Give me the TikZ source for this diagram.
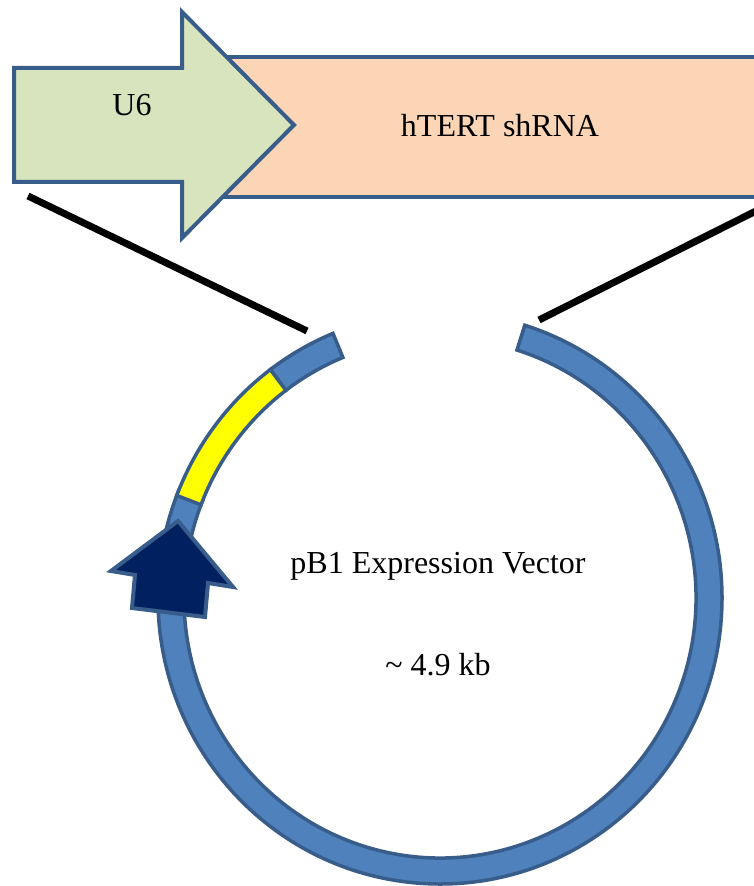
\documentclass[tikz,border=0pt]{standalone}
\usepackage{fontspec}
\setmainfont{Liberation Serif}
\usetikzlibrary{calc}
\definecolor{ringblue}{HTML}{4F81BD}
\definecolor{ringedge}{HTML}{385D8A}
\definecolor{u6green}{HTML}{D7E4BD}
\definecolor{shpink}{HTML}{FBD5B5}
\definecolor{navyarrow}{HTML}{002060}
\definecolor{markyellow}{HTML}{FFFF00}
\newcommand{\plasmidarc}[3]{%
  \path[#1] ($(C)+(#2:282 and 286)$)
    arc[start angle=#2, end angle=#3, x radius=282, y radius=286]
    -- ($(C)+(#3:256 and 260)$)
    arc[start angle=#3, end angle=#2, x radius=256, y radius=260] -- cycle;}
\begin{document}
\begin{tikzpicture}[x=1pt,y=1pt,
  ringseg/.style={fill=ringblue, draw=ringedge, line width=3.5pt},
  yellowseg/.style={fill=markyellow, draw=ringedge, line width=3.5pt},
  insertbox/.style={draw=ringedge, line width=4pt},
  link/.style={line width=7pt, black},
  lbl/.style={font=\fontsize{32}{38}\selectfont, inner sep=0pt, text=black}]
\useasboundingbox (0,0) rectangle (754,886);
\clip (0,0) rectangle (754,886);
\fill[white] (0,0) rectangle (754,886);
% insert: shRNA box and U6 promoter arrow
\node[insertbox, fill=shpink, minimum width=600, minimum height=140, anchor=west] (shrna) at (200,759) {};
\draw[insertbox, fill=u6green, line join=miter]
  (14,818) -- (182,818) -- (182,874) -- (294,761) -- (182,648) -- (182,704) -- (14,704) -- cycle;
\node[lbl] (u6) at (132,781) {U6};
\node[lbl] (shtext) at (500,760) {hTERT shRNA};
% plasmid ring
\coordinate (C) at (440,288);
\plasmidarc{ringseg}{176}{432.5}
\plasmidarc{ringseg}{158}{171}
\plasmidarc{ringseg}{112.3}{127}
\plasmidarc{yellowseg}{127}{159}
% promoter arrow on the ring
\draw[fill=navyarrow, draw=ringedge, line width=4pt, line join=miter]
  (178,365) -- (233,299) -- (208,303) -- (205,269) -- (132,278) -- (135,311) -- (111,315) -- cycle;
% labels in the ring
\node[lbl] (vec) at (438,320) {pB1 Expression Vector};
\node[lbl] (size) at (438,221) {\textasciitilde{} 4.9 kb};
% connector lines from insert to ring gap
\coordinate (lA) at (28,690);
\coordinate (lB) at (307,555);
\coordinate (rA) at (760,677);
\coordinate (rB) at (539,566);
\draw[link] (lA) -- (lB);
\draw[link] (rA) -- (rB);
\end{tikzpicture}
\end{document}
